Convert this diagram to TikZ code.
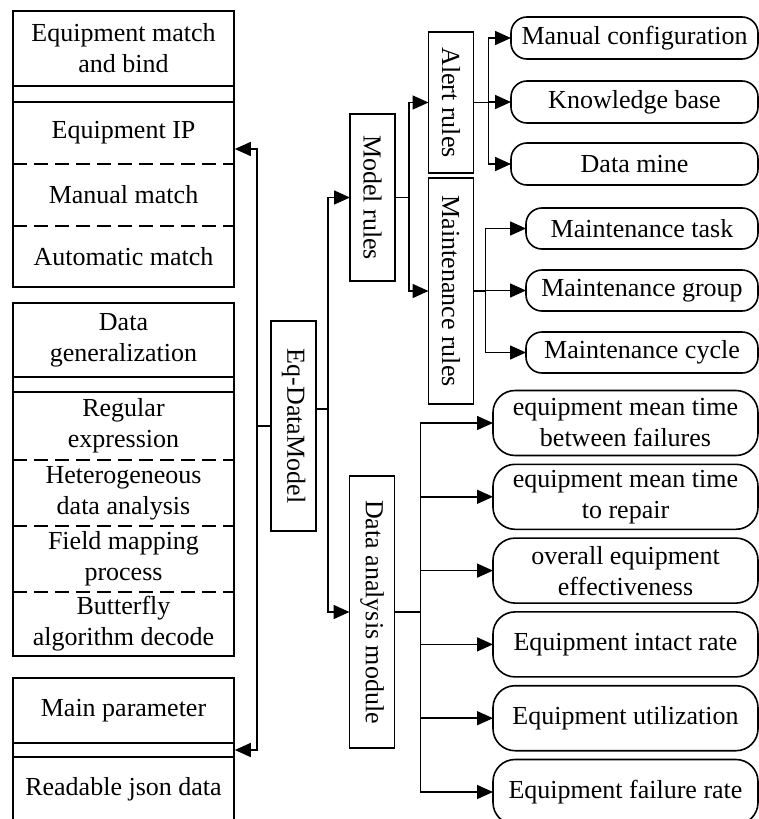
\documentclass[tikz,border=0pt]{standalone}
\usepackage{fontspec}
\setmainfont{Liberation Serif}
\usetikzlibrary{arrows.meta, positioning, fit}

\begin{document}
\begin{tikzpicture}[
    x=1pt, y=-1pt, line width=1.6pt,
    % ── Node styles ──────────────────────────────────────────────────────
    base/.style={
        font=\fontsize{26}{31}\selectfont,
        align=center, inner sep=2pt, outer sep=0pt
    },
    cell/.style={base, minimum width=221pt},
    vbox/.style={base, draw, minimum width=45pt},
    leaf/.style={base, draw, rounded corners=16pt, minimum height=42pt},
    metric/.style={
        base, draw, rounded corners=22pt,
        minimum width=265pt, minimum height=65pt
    },
    dsep/.style={dash pattern=on 14pt off 7pt},
    % ── Arrow style ──────────────────────────────────────────────────────
    arr/.style={-{Triangle[length=16pt, width=14pt]}}
]
\useasboundingbox (0,0) rectangle (758,819);

% ═══════════════════════════════════════════════════════════════════════════
% Left column
% ═══════════════════════════════════════════════════════════════════════════

% Equipment match and bind
\node[cell, minimum height=75pt, anchor=north] (bindtitle) at (123.5,11)
    {Equipment match\\and bind};
\node[cell, minimum height=16pt, below=0pt of bindtitle] (bindgap) {};
\node[cell, minimum height=62pt, below=0pt of bindgap] (bindip) {Equipment IP};
\node[cell, minimum height=62pt, below=0pt of bindip] (bindmanual) {Manual match};
\node[cell, minimum height=61pt, below=0pt of bindmanual] (bindauto)
    {Automatic match};
\node[draw, inner sep=0pt, fit=(bindtitle)(bindauto)] (bindbox) {};
\draw (bindtitle.south west) -- (bindtitle.south east);
\draw (bindgap.south west) -- (bindgap.south east);
\draw[dsep] (bindip.south west) -- (bindip.south east);
\draw[dsep] (bindmanual.south west) -- (bindmanual.south east);

% Data generalization
\node[cell, minimum height=74pt, anchor=north] (gentitle) at (123.5,303)
    {Data\\generalization};
\node[cell, minimum height=15pt, below=0pt of gentitle] (gengap) {};
\node[cell, minimum height=68pt, below=0pt of gengap] (genregex)
    {Regular\\expression};
\node[cell, minimum height=66pt, below=0pt of genregex] (genhetero)
    {Heterogeneous\\data analysis};
\node[cell, minimum height=66pt, below=0pt of genhetero] (genfield)
    {Field mapping\\process};
\node[cell, minimum height=64pt, below=0pt of genfield] (genbutterfly)
    {Butterfly\\algorithm decode};
\node[draw, inner sep=0pt, fit=(gentitle)(genbutterfly)] (genbox) {};
\draw (gentitle.south west) -- (gentitle.south east);
\draw (gengap.south west) -- (gengap.south east);
\draw[dsep] (genregex.south west) -- (genregex.south east);
\draw[dsep] (genhetero.south west) -- (genhetero.south east);
\draw[dsep] (genfield.south west) -- (genfield.south east);

% Main parameter
\node[cell, minimum height=65pt, anchor=north] (jsontitle) at (123.5,678)
    {Main parameter};
\node[cell, minimum height=14pt, below=0pt of jsontitle] (jsongap) {};
\node[cell, minimum height=65pt, below=0pt of jsongap] (jsondata)
    {Readable json data};
\node[draw, inner sep=0pt, fit=(jsontitle)(jsondata)] (jsonbox) {};
\draw (jsontitle.south west) -- (jsontitle.south east);
\draw (jsongap.south west) -- (jsongap.south east);

% ═══════════════════════════════════════════════════════════════════════════
% Vertical boxes
% ═══════════════════════════════════════════════════════════════════════════
\node[vbox, minimum height=210pt] (eqdm) at (293.5,426)
    {\rotatebox{-90}{Eq-DataModel}};
\node[vbox, minimum height=167pt] (modelrules) at (372.5,197.5)
    {\rotatebox{-90}{Model rules}};
\node[vbox, minimum height=272pt] (analysis) at (372,612)
    {\rotatebox{-90}{Data analysis module}};
\node[vbox, minimum height=141pt] (alertrules) at (451,102.5)
    {\rotatebox{-90}{Alert rules}};
\node[vbox, minimum height=226pt] (maintrules) at (451,291)
    {\rotatebox{-90}{Maintenance rules}};

% ═══════════════════════════════════════════════════════════════════════════
% Leaves
% ═══════════════════════════════════════════════════════════════════════════

% Alert rules
\node[leaf, minimum width=247pt] (manualcfg) at (634.5,38)
    {Manual configuration};
\node[leaf, minimum width=247pt, below=22pt of manualcfg] (knowledge)
    {Knowledge base};
\node[leaf, minimum width=247pt, below=20pt of knowledge] (datamine)
    {Data mine};

% Maintenance rules
\node[leaf, minimum width=232pt, minimum height=41pt] (mtask) at (642,228.5)
    {Maintenance task};
\node[leaf, minimum width=232pt, minimum height=41pt, below=21pt of mtask]
    (mgroup) {Maintenance group};
\node[leaf, minimum width=232pt, minimum height=41pt, below=21pt of mgroup]
    (mcycle) {Maintenance cycle};

% Data analysis module
\node[metric] (mtbf) at (625.5,423)
    {equipment mean time\\between failures};
\node[metric, below=8.8pt of mtbf] (mttr)
    {equipment mean time\\to repair};
\node[metric, below=8.8pt of mttr] (oee)
    {overall equipment\\effectiveness};
\node[metric, below=8.8pt of oee] (intact) {Equipment intact rate};
\node[metric, below=8.8pt of intact] (util) {Equipment utilization};
\node[metric, below=8.8pt of util] (failure) {Equipment failure rate};

% ═══════════════════════════════════════════════════════════════════════════
% Arrows
% ═══════════════════════════════════════════════════════════════════════════

% Eq-DataModel to left column
\coordinate (lbus) at ([xshift=-14pt]eqdm.west);
\draw (eqdm.west) -- (lbus);
\draw[arr] (lbus) |- (bindbox.east);
\draw[arr] (lbus) |- (jsonbox.east);

% Eq-DataModel to rules and analysis
\coordinate (rbus) at ([xshift=12pt, yshift=17pt]eqdm.east);
\draw (eqdm.east |- rbus) -- (rbus);
\draw[arr] (rbus) |- (modelrules.west);
\draw[arr] (rbus) |- (analysis.west);

% Model rules
\coordinate (mbus) at ([xshift=14pt]modelrules.east);
\draw (modelrules.east) -- (mbus);
\draw[arr] (mbus) |- (alertrules.west);
\draw[arr] (mbus) |- (maintrules.west);

% Alert rules
\coordinate (abus) at ([xshift=15pt]alertrules.east);
\draw (alertrules.east) -- (abus);
\draw[arr] (abus) |- (manualcfg.west);
\draw[arr] (abus) |- (knowledge.west);
\draw[arr] (abus) |- (datamine.west);

% Maintenance rules
\coordinate (mtbus) at ([xshift=12pt]maintrules.east);
\draw (maintrules.east) -- (mtbus);
\draw[arr] (mtbus) |- (mtask.west);
\draw[arr] (mtbus) |- (mgroup.west);
\draw[arr] (mtbus) |- (mcycle.west);

% Data analysis module
\coordinate (dbus) at ([xshift=26pt]analysis.east);
\draw (analysis.east) -- (dbus);
\draw[arr] (dbus) |- (mtbf.west);
\draw[arr] (dbus) |- (mttr.west);
\draw[arr] (dbus) |- (oee.west);
\draw[arr] (dbus) |- (intact.west);
\draw[arr] (dbus) |- (util.west);
\draw[arr] (dbus) |- (failure.west);

\end{tikzpicture}
\end{document}
